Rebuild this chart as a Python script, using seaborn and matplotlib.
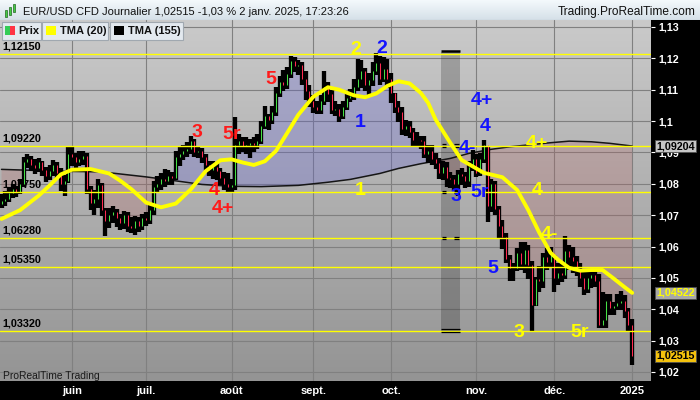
import numpy as np
import matplotlib
matplotlib.use("Agg")
import matplotlib.pyplot as plt
import matplotlib.transforms as mtransforms
from matplotlib.patches import Rectangle
from matplotlib.colors import to_rgb
import seaborn as sns

W, H = 700, 400

# EUR/USD daily bars, 7 May 2024 -> 2 Jan 2025 (one value per trading bar)
close = [
    1.0745, 1.0752, 1.0770, 1.0782, 1.0775, 1.0800, 1.0870, 1.0878, 1.0860, 1.0850,
    1.0868, 1.0845, 1.0825, 1.0840, 1.0860, 1.0835, 1.0800, 1.0810, 1.0895, 1.0885,
    1.0870, 1.0880, 1.0890, 1.0785, 1.0740, 1.0750, 1.0795, 1.0715, 1.0680, 1.0700,
    1.0710, 1.0690, 1.0675, 1.0700, 1.0665, 1.0660, 1.0680, 1.0665, 1.0690, 1.0685,
    1.0715, 1.0790, 1.0800, 1.0815, 1.0810, 1.0825, 1.0820, 1.0885, 1.0895, 1.0905,
    1.0910, 1.0935, 1.0900, 1.0905, 1.0885, 1.0860, 1.0845, 1.0855, 1.0840, 1.0820,
    1.0800, 1.0790, 1.0795, 1.0925, 1.0935, 1.0920, 1.0925, 1.0930, 1.0925, 1.0935,
    1.0985, 1.1015, 1.1005, 1.1030, 1.1090, 1.1125, 1.1115, 1.1150, 1.1190, 1.1175,
    1.1180, 1.1135, 1.1095, 1.1065, 1.1045, 1.1035, 1.1065, 1.1110, 1.1085, 1.1035,
    1.1040, 1.1015, 1.1045, 1.1075, 1.1080, 1.1110, 1.1135, 1.1160, 1.1115, 1.1130,
    1.1160, 1.1185, 1.1135, 1.1165, 1.1135, 1.1090, 1.1045, 1.1030, 1.0975, 1.0985,
    1.0965, 1.0940, 1.0940, 1.0935, 1.0895, 1.0905, 1.0880, 1.0865, 1.0835, 1.0855,
    1.0820, 1.0815, 1.0800, 1.0830, 1.0825, 1.0810, 1.0855, 1.0880, 1.0835, 1.0880,
    1.0925, 1.0730, 1.0800, 1.0720, 1.0665, 1.0630, 1.0560, 1.0530, 1.0530, 1.0580,
    1.0545, 1.0590, 1.0540, 1.0415, 1.0495, 1.0490, 1.0565, 1.0550, 1.0580, 1.0500,
    1.0515, 1.0510, 1.0585, 1.0565, 1.0555, 1.0525, 1.0500, 1.0465, 1.0500, 1.0510,
    1.0490, 1.0350, 1.0365, 1.0425, 1.0405, 1.0410, 1.0420, 1.0425, 1.0395, 1.0350,
    1.02515,
]
high = [
    1.0765, 1.0772, 1.0785, 1.0795, 1.0790, 1.0812, 1.0882, 1.0892, 1.0885, 1.0875,
    1.0880, 1.0870, 1.0850, 1.0856, 1.0872, 1.0866, 1.0845, 1.0825, 1.0915, 1.0912,
    1.0895, 1.0900, 1.0902, 1.0893, 1.0790, 1.0775, 1.0812, 1.0800, 1.0720, 1.0720,
    1.0725, 1.0715, 1.0700, 1.0710, 1.0705, 1.0690, 1.0695, 1.0690, 1.0700, 1.0705,
    1.0730, 1.0805, 1.0820, 1.0830, 1.0842, 1.0840, 1.0835, 1.0900, 1.0915, 1.0920,
    1.0930, 1.0948, 1.0938, 1.0918, 1.0910, 1.0890, 1.0870, 1.0870, 1.0862, 1.0848,
    1.0835, 1.0830, 1.0810, 1.1010, 1.0955, 1.0945, 1.0945, 1.0940, 1.0945, 1.0955,
    1.0995, 1.1045, 1.1020, 1.1045, 1.1105, 1.1140, 1.1160, 1.1170, 1.1203, 1.1200,
    1.1190, 1.1185, 1.1155, 1.1110, 1.1080, 1.1060, 1.1080, 1.1155, 1.1120, 1.1095,
    1.1060, 1.1050, 1.1060, 1.1090, 1.1100, 1.1130, 1.1193, 1.1190, 1.1165, 1.1150,
    1.1185, 1.1214, 1.1205, 1.1200, 1.1195, 1.1150, 1.1085, 1.1060, 1.1040, 1.1000,
    1.0995, 1.0975, 1.0960, 1.0950, 1.0950, 1.0920, 1.0920, 1.0895, 1.0880, 1.0870,
    1.0865, 1.0835, 1.0825, 1.0840, 1.0845, 1.0835, 1.0870, 1.0905, 1.0890, 1.0895,
    1.0937, 1.0915, 1.0810, 1.0805, 1.0725, 1.0680, 1.0640, 1.0570, 1.0545, 1.0590,
    1.0610, 1.0610, 1.0600, 1.0550, 1.0500, 1.0535, 1.0575, 1.0590, 1.0595, 1.0570,
    1.0545, 1.0545, 1.0630, 1.0600, 1.0595, 1.0565, 1.0545, 1.0520, 1.0525, 1.0525,
    1.0525, 1.0510, 1.0450, 1.0445, 1.0445, 1.0420, 1.0445, 1.0455, 1.0440, 1.0400,
    1.0366,
]
low = [
    1.0726, 1.0732, 1.0745, 1.0758, 1.0762, 1.0770, 1.0795, 1.0855, 1.0845, 1.0835,
    1.0840, 1.0830, 1.0810, 1.0815, 1.0830, 1.0820, 1.0780, 1.0765, 1.0805, 1.0862,
    1.0855, 1.0860, 1.0865, 1.0770, 1.0720, 1.0705, 1.0728, 1.0700, 1.0637, 1.0662,
    1.0680, 1.0665, 1.0655, 1.0660, 1.0650, 1.0648, 1.0641, 1.0650, 1.0655, 1.0670,
    1.0675, 1.0705, 1.0775, 1.0785, 1.0795, 1.0800, 1.0800, 1.0815, 1.0860, 1.0880,
    1.0890, 1.0900, 1.0890, 1.0885, 1.0870, 1.0845, 1.0830, 1.0820, 1.0815, 1.0800,
    1.0785, 1.0775, 1.0778, 1.0785, 1.0900, 1.0905, 1.0900, 1.0885, 1.0905, 1.0915,
    1.0930, 1.0980, 1.0975, 1.0995, 1.1020, 1.1080, 1.1100, 1.1105, 1.1140, 1.1160,
    1.1150, 1.1120, 1.1070, 1.1050, 1.1030, 1.1025, 1.1025, 1.1055, 1.1065, 1.1025,
    1.1020, 1.1002, 1.1010, 1.1040, 1.1065, 1.1070, 1.1100, 1.1110, 1.1100, 1.1085,
    1.1115, 1.1150, 1.1120, 1.1130, 1.1110, 1.1060, 1.1030, 1.1000, 1.0960, 1.0955,
    1.0950, 1.0925, 1.0920, 1.0915, 1.0885, 1.0870, 1.0865, 1.0850, 1.0820, 1.0815,
    1.0795, 1.0790, 1.0780, 1.0765, 1.0800, 1.0790, 1.0795, 1.0845, 1.0825, 1.0830,
    1.0870, 1.0683, 1.0715, 1.0705, 1.0630, 1.0595, 1.0550, 1.0495, 1.0495, 1.0525,
    1.0530, 1.0520, 1.0500, 1.0332, 1.0415, 1.0460, 1.0470, 1.0530, 1.0540, 1.0460,
    1.0480, 1.0490, 1.0500, 1.0530, 1.0520, 1.0510, 1.0475, 1.0450, 1.0455, 1.0470,
    1.0475, 1.0343, 1.0345, 1.0345, 1.0385, 1.0385, 1.0400, 1.0400, 1.0375, 1.0335,
    1.0226,
]
first_open = 1.0735

# TMA(20) and TMA(155) (bar index, value)
tma20_bar = [0, 5, 10, 13, 16, 19, 24, 29, 32, 35, 39, 43, 47, 51, 55, 59, 62, 65,
             68, 71, 74, 77, 80, 84, 88, 91, 95, 98, 101, 104, 107, 110, 113, 115,
             117, 121, 124, 130, 135, 139, 142, 145, 148, 150, 153, 156, 159, 162,
             165, 168, 170]
tma20 = [1.0688, 1.0716, 1.0762, 1.0795, 1.0830, 1.0845, 1.0847, 1.0833, 1.0810,
         1.0783, 1.0740, 1.0725, 1.0737, 1.0782, 1.0840, 1.0875, 1.0878, 1.0868,
         1.0860, 1.0872, 1.0905, 1.0962, 1.1020, 1.1077, 1.1108, 1.1100, 1.1082,
         1.1076, 1.1088, 1.1112, 1.1127, 1.1120, 1.1090, 1.1058, 1.1005, 1.0930,
         1.0876, 1.0835, 1.0821, 1.0780, 1.0716, 1.0643, 1.0580, 1.0558, 1.0532,
         1.0523, 1.0525, 1.0525, 1.0498, 1.0470, 1.04522]
tma155_bar = [0, 16, 27, 39, 46, 54, 62, 70, 80, 88, 94, 102, 107, 113, 121, 126,
              132, 137, 142, 148, 153, 159, 164, 170]
tma155 = [1.0846, 1.0840, 1.0838, 1.0822, 1.0811, 1.0798, 1.0792, 1.0791, 1.0795,
          1.0805, 1.0814, 1.0833, 1.0849, 1.0864, 1.0881, 1.0897, 1.0910, 1.0918,
          1.0924, 1.0931, 1.0936, 1.0934, 1.0929, 1.09204]

month_bar = [19, 39, 62, 84, 105, 128, 149, 170]
month_label = ['juin', 'juil.', 'août', 'sept.', 'oct.', 'nov.', 'déc.', '2025']
price_ticks = [1.02, 1.03, 1.04, 1.05, 1.06, 1.07, 1.08, 1.09, 1.10, 1.11, 1.12, 1.13]

levels = [1.12150, 1.09220, 1.07750, 1.06280, 1.05350, 1.03320]
level_label = ['1,12150', '1,09220', '1,07750', '1,06280', '1,05350', '1,03320']

# Elliott wave labels: text, bar, price, colour
waves = [
    ('5', 72.6, 1.1131, 'red'), ('3', 52.7, 1.0962, 'red'), ('5r', 61.9, 1.0956, 'red'),
    ('4', 57.3, 1.0780, 'red'), ('4+', 59.7, 1.0720, 'red'),
    ('2', 95.6, 1.1227, 'yellow'), ('1', 96.6, 1.0780, 'yellow'),
    ('4+', 144.3, 1.0927, 'yellow'), ('4', 144.3, 1.0780, 'yellow'),
    ('4-', 147.6, 1.0637, 'yellow'), ('3', 139.5, 1.0327, 'yellow'),
    ('5r', 155.7, 1.0327, 'yellow'),
    ('2', 102.6, 1.1230, 'blue'), ('1', 96.6, 1.0997, 'blue'), ('4+', 129.5, 1.1067, 'blue'),
    ('4', 130.3, 1.0984, 'blue'), ('4-', 125.7, 1.0911, 'blue'), ('3', 122.5, 1.0758, 'blue'),
    ('5r', 129.0, 1.0771, 'blue'), ('5', 132.5, 1.0531, 'blue'),
]
wave_color = {'red': '#ff1a1a', 'yellow': '#ffff00', 'blue': '#1414ff'}

# shaded zone (bars / prices) and its marker levels
band_bars = (118.5, 123.6)
band_prices = (1.0330, 1.1220)
band_marks = [1.09220, 1.07750, 1.06280]

assert len(close) == len(high) == len(low)


def fx(px):
    return px / W


def fy(py):
    return 1 - py / H


def tick_fmt(p):
    return f"{p:.2f}".rstrip('0').replace('.', ',')


sns.set_style("white")
plt.rcParams['font.family'] = ['Liberation Sans', 'DejaVu Sans']

fig = plt.figure(figsize=(W / 100, H / 100), dpi=100, facecolor='black')
ax = fig.add_axes([0, fy(381), fx(651), (381 - 20) / H])

x_lo, x_hi = -1.5 / 3.71, (651 - 1.5) / 3.71
y_lo, y_hi = 1.13 - 354 / 3136, 1.13 + 7 / 3136
px_price = 1 / 3136  # one pixel in price units

# gray gradient background
g = np.linspace(0, 1, 256)[:, None, None]
top_c, bot_c = np.array(to_rgb('#cacaca')), np.array(to_rgb('#949494'))
ax.imshow(top_c + (bot_c - top_c) * g, extent=[x_lo, x_hi, y_lo, y_hi],
          aspect='auto', origin='upper', zorder=0, interpolation='bilinear')

bars = np.arange(len(close))
c = np.array(close)
o = np.array([first_open] + close[:-1])
t155 = np.interp(bars, tma155_bar, tma155)

# price vs TMA(155) shading
ax.fill_between(bars, c, t155, where=c >= t155, interpolate=True,
                color='#5c5cd8', alpha=0.27, lw=0, zorder=2)
ax.fill_between(bars, c, t155, where=c < t155, interpolate=True,
                color='#b85a5a', alpha=0.22, lw=0, zorder=2)

# shaded zone
ax.fill_between(band_bars, band_prices[0], band_prices[1], color='black',
                alpha=0.2, lw=0, zorder=2.5)
ax.hlines(band_prices[1] + 0.0002, *band_bars, color='black', lw=1.8, zorder=6.5)
for d in (-0.00035, 0.00035):
    ax.hlines(band_prices[0] + 0.0002 + d, *band_bars, color='black', lw=0.9, zorder=6.5)
    for lv in band_marks:
        ax.hlines(lv + d, band_bars[0] + 0.3, band_bars[0] + 1.4, color='black', lw=0.9, zorder=6.5)
        ax.hlines(lv + d, band_bars[1] - 1.5, band_bars[1] - 0.4, color='black', lw=0.9, zorder=6.5)

sns.lineplot(x=tma155_bar, y=tma155, ax=ax, color='#151515', lw=1.1,
             estimator=None, sort=False, legend=False, zorder=3)

# level labels under the candles
blend = mtransforms.blended_transform_factory(ax.transAxes, ax.transData)
for lv, lab in zip(levels, level_label):
    ax.annotate(lab, xy=(0, lv), xycoords=blend, xytext=(1.5, 1.8),
                textcoords='offset points', ha='left', va='bottom',
                fontsize=7.8, fontweight='bold', color='black', zorder=3)

# candles: black outlined high-low bar with a thin coloured open-close line
ax.vlines(bars, np.array(low) - 1.2 * px_price, np.array(high) + 1.2 * px_price,
          color='black', lw=3.1, zorder=4)
up = c >= o
ax.vlines(bars[up], o[up], c[up], color='#45e045', lw=0.75, zorder=5)
ax.vlines(bars[~up], o[~up], c[~up], color='#ff2a50', lw=0.75, zorder=5)

for lv in levels:
    ax.axhline(lv, color='#ffff00', lw=1.0, zorder=6)

sns.lineplot(x=tma20_bar, y=tma20, ax=ax, color='#ffff00', lw=2.8,
             estimator=None, sort=False, legend=False, zorder=7)

for txt, b, p, col in waves:
    ax.text(b, p, txt, color=wave_color[col], fontsize=14, fontweight='bold',
            ha='center', va='center', zorder=9)

ax.set_xlim(x_lo, x_hi)
ax.set_ylim(y_lo, y_hi)
ax.set_xticks(month_bar)
ax.set_xticklabels(month_label, fontweight='bold', fontsize=8)
ax.set_yticks(price_ticks)
ax.set_yticklabels([tick_fmt(p) for p in price_ticks], fontweight='bold', fontsize=7.7)
ax.yaxis.tick_right()
ax.tick_params(axis='y', colors='white', length=3, width=0.8, pad=2)
ax.tick_params(axis='x', colors='white', length=3, width=0.8, pad=0.5)
ax.grid(True, color='#808080', lw=0.8)
ax.set_axisbelow(True)
for s in ax.spines.values():
    s.set_visible(False)
ax.set_xlabel('')
ax.set_ylabel('')

# last-value boxes on the price scale
rblend = mtransforms.blended_transform_factory(ax.transAxes, ax.transData)
for val, face, tcol in [(tma155[-1], '#c6c6c6', 'black'),
                        (tma20[-1], '#a8a8a8', '#ffff00'),
                        (close[-1], '#f4c20d', 'black')]:
    ax.text(1 + 5.5 / 651, val, f"{val:.5f}".replace('.', ','), transform=rblend,
            ha='left', va='center', fontsize=7.7, fontweight='bold', color=tcol,
            clip_on=False, zorder=10,
            bbox=dict(boxstyle='square,pad=0.12', facecolor=face, edgecolor='#505050', lw=0.6))

# title bar
tb = fig.add_axes([0, fy(20), 1, 20 / H])
tg = np.linspace(0, 1, 64)[:, None, None]
t0, t1 = np.array(to_rgb('#f4f9fc')), np.array(to_rgb('#d5e0e8'))
tb.imshow(t0 + (t1 - t0) * tg, extent=[0, 1, 0, 1], aspect='auto', origin='upper')
tb.set_xlim(0, 1)
tb.set_ylim(0, 1)
tb.axis('off')
tb.axhline(0.02, color='#8e9aa4', lw=0.8)
for k, (x0, ya, yb) in enumerate([(6, 10, 17), (10, 7, 15), (14, 4, 12)]):
    fig.add_artist(Rectangle((fx(x0 - 1.2), fy(yb)), fx(2.4), (yb - ya) / H,
                             transform=fig.transFigure, facecolor='#44cc44',
                             edgecolor='#226622', lw=0.5))
fig.text(fx(23), fy(12), 'EUR/USD CFD Journalier 1,02515 -1,03 % 2 janv. 2025, 17:23:26',
         fontsize=8, color='#101010', ha='left', va='center')
fig.text(fx(696), fy(12), 'Trading.ProRealTime.com', fontsize=8.6,
         color='#101010', ha='right', va='center')

# legend boxes
legend_items = [('Prix', 2, 41), ('TMA (20)', 42, 108), ('TMA (155)', 110, 183)]
for (lab, x0, x1), sw in zip(legend_items, ['prix', '#ffff00', '#000000']):
    fig.add_artist(Rectangle((fx(x0), fy(40)), fx(x1 - x0), 18 / H,
                             transform=fig.transFigure, facecolor='#e3e9ef',
                             edgecolor='#a0a8b0', lw=0.8))
    if sw == 'prix':
        fig.add_artist(Rectangle((fx(5), fy(35)), fx(5), 9 / H, transform=fig.transFigure,
                                 facecolor='#33cc55', lw=0))
        fig.add_artist(Rectangle((fx(10), fy(35)), fx(5), 9 / H, transform=fig.transFigure,
                                 facecolor='#ff3344', lw=0))
        tx = 18
    else:
        fig.add_artist(Rectangle((fx(x0 + 4), fy(35)), fx(10), 9 / H,
                                 transform=fig.transFigure, facecolor=sw, lw=0))
        tx = x0 + 18
    fig.text(fx(tx), fy(31), lab, fontsize=8, fontweight='bold', color='#101010',
             ha='left', va='center')

fig.text(fx(3), fy(376), 'ProRealTime Trading', fontsize=7.4, color='#1a1a1a',
         ha='left', va='center')

fig.savefig('out.png', dpi=100, facecolor=fig.get_facecolor())
